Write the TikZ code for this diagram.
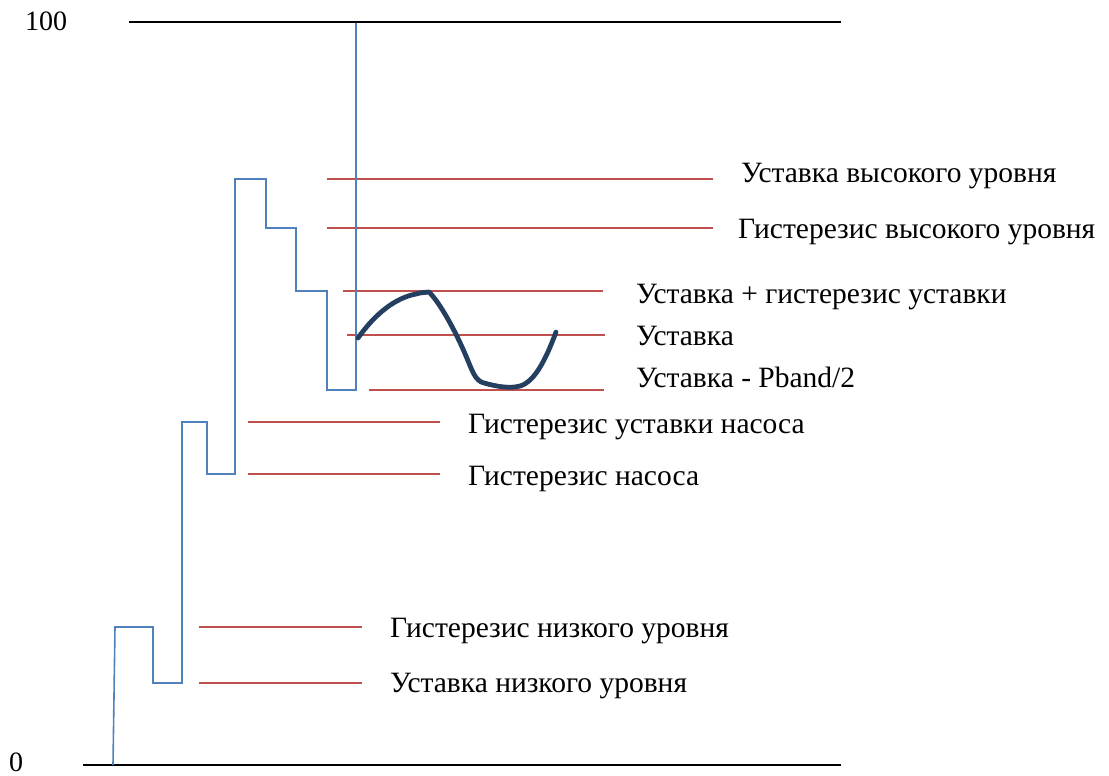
\documentclass[tikz,border=0pt]{standalone}
\usepackage{fontspec}
\setmainfont{Liberation Serif}
\definecolor{stepblue}{HTML}{4F81BD}
\definecolor{levelred}{HTML}{C0504D}
\definecolor{curvenavy}{HTML}{243F60}
\begin{document}
\begin{tikzpicture}[x=1pt,y=-1pt,
  axisline/.style={draw=black,line width=2pt},
  stepline/.style={draw=stepblue,line width=1.6pt,line join=miter},
  levelline/.style={draw=levelred,line width=1.6pt},
  wave/.style={draw=curvenavy,line width=4.8pt,line cap=round,line join=round},
  lbl/.style={anchor=base west,inner sep=0pt,font=\fontsize{29.5}{34}\selectfont},
  numlbl/.style={anchor=base west,inner sep=0pt,font=\fontsize{28}{32}\selectfont}]
\useasboundingbox (0,0) rectangle (1109,776);

% scale limits
\draw[axisline] (129,22) coordinate (topL) -- (841,22) coordinate (topR);
\draw[axisline] (83,765) coordinate (botL) -- (841,765) coordinate (botR);
\node[numlbl] (t100) at (25,31) {100};
\node[numlbl] (t0) at (9,771) {0};

% level lines with their labels
\draw[levelline] (327,179) -- (713,179);
\node[lbl] (hiSet) at (741,182) {Уставка высокого уровня};
\draw[levelline] (327,228) -- (713,228);
\node[lbl] (hiHys) at (738,238) {Гистерезис высокого уровня};
\draw[levelline] (343,291) -- (603,291);
\node[lbl] (spHys) at (636,303) {Уставка + гистерезис уставки};
\draw[levelline] (347,335) -- (605,335);
\node[lbl] (sp) at (636,345) {Уставка};
\draw[levelline] (369,390) -- (604,390);
\node[lbl] (spBand) at (636,387) {Уставка - Pband/2};
\draw[levelline] (248,422) -- (440,422);
\node[lbl] (pumpSpHys) at (468,433) {Гистерезис уставки насоса};
\draw[levelline] (248,474) -- (440,474);
\node[lbl] (pumpHys) at (468,485) {Гистерезис насоса};
\draw[levelline] (199,627) -- (362,627);
\node[lbl] (loHys) at (390,637) {Гистерезис низкого уровня};
\draw[levelline] (199,683) -- (362,683);
\node[lbl] (loSet) at (390,692) {Уставка низкого уровня};

% staircase of the level signal
\draw[stepline] (113,765) -- (115,627) -- (153,627) -- (153,683) -- (182,683)
  -- (182,422) -- (207,422) -- (207,474) -- (235,474) -- (235,179)
  -- (266,179) -- (266,228) -- (296,228) -- (296,291) -- (327,291)
  -- (327,390) -- (356,390) -- (356,23);

% controlled value oscillating around the set point
\draw[wave] (358,338) .. controls (375,314) and (395,298) .. (416,294)
  .. controls (422,292) and (425,293) .. (429,292)
  .. controls (440,303) and (455,330) .. (466,356)
  .. controls (472,370) and (475,381) .. (484,383)
  .. controls (495,386) and (505,388) .. (515,387)
  .. controls (530,386) and (542,370) .. (556,332);
\end{tikzpicture}
\end{document}
